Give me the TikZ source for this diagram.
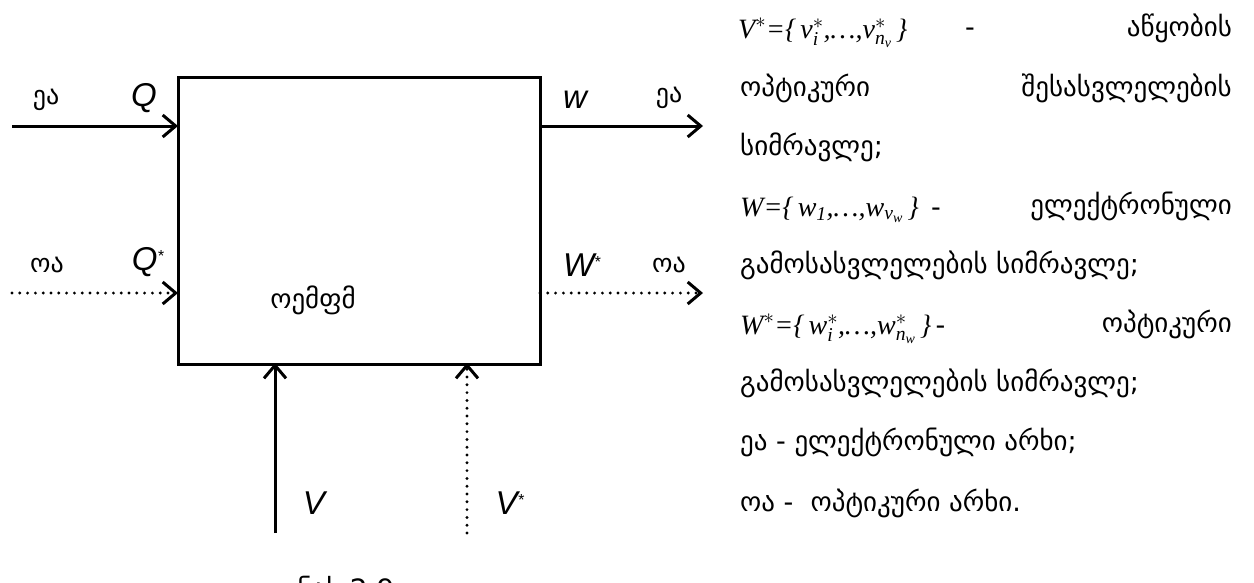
\documentclass[tikz,border=0pt]{standalone}
\usepackage{amsmath}
\usepackage{fontspec}
\setmainfont{DejaVu Sans}
\newfontfamily\ars{Liberation Sans}
\newfontfamily\tms{Liberation Serif}
\usetikzlibrary{arrows.meta}
\newcommand\ti[1]{\text{\tms\itshape #1}}
\begin{document}
\begin{tikzpicture}[x=1pt,y=-1pt,
  thick line/.style={line width=3pt},
  tip/.style={-{Straight Barb[length=13pt,width=22pt,line width=3pt]}},
  solidarrow/.style={thick line,tip},
  dotarrow/.style={line width=3.2pt,line cap=round,dash pattern=on 0pt off 7.8pt,tip},
  geo/.style={font=\fontsize{26}{30}\selectfont,inner sep=0pt},
  sym/.style={font=\ars\itshape\fontsize{33}{36}\selectfont,inner sep=0pt},
  rtxt/.style={font=\fontsize{27}{30}\selectfont,inner sep=0pt},
  frm/.style={font=\fontsize{28}{32}\selectfont,inner sep=0pt}]
\useasboundingbox (0,0) rectangle (1254,582);
\fill[white] (0,0) rectangle (1254,582);
% box
\node[draw,line width=3pt,minimum width=362pt,minimum height=287pt,inner sep=0pt] (box) at (359,220.5) {};
\node[geo,font=\fontsize{27}{30}\selectfont] (boxlbl) at (313,300) {ოემფმ};
% input / output coordinates
\coordinate (qs) at (12,126);
\coordinate (qe) at (178,126);
\coordinate (qss) at (12,293);
\coordinate (qse) at (178,293);
\coordinate (ws) at (540,126);
\coordinate (we) at (703,126);
\coordinate (wss) at (540,293);
\coordinate (wse) at (703,293);
\coordinate (vs) at (275,533);
\coordinate (ve) at (275,363);
\coordinate (vss) at (467,533);
\coordinate (vse) at (467,363);
\draw[solidarrow] (qs) -- (qe);
\draw[dotarrow] (qss) -- (qse);
\draw[solidarrow] (ws) -- (we);
\draw[dotarrow] (wss) -- (wse);
\draw[solidarrow] (vs) -- (ve);
\draw[dotarrow] (vss) -- (vse);
% labels
\node[geo] (l1) at (46,100) {ეა};
\node[sym] (lq) at (144,98) {Q};
\node[geo] (l2) at (47,265) {ოა};
\node[sym] (lqs) at (148,262) {Q\textsuperscript{\fontsize{16}{16}\selectfont *}};
\node[sym] (lw) at (575,100) {w};
\node[geo] (r1) at (669,98) {ეა};
\node[sym] (lws) at (582,265) {W\textsuperscript{\fontsize{16}{16}\selectfont *}};
\node[geo] (r2) at (669,265) {ოა};
\node[sym] (lv) at (314,503) {V};
\node[sym] (lvs) at (510,503) {V\textsuperscript{\fontsize{16}{16}\selectfont *}};
\node[geo,font=\fontsize{28}{30}\selectfont,anchor=north] (cap) at (346,576) {ნახ.2.9};
% right text
\node[frm,anchor=base west] (f1) at (738,38) {$\ti{V}^{*}\ti{=\{}\,\ti{v}_{\ti{i}}^{*}\ti{,\ldots,}\ti{v}_{\ti{n}_{\ti{v}}}^{*}\,\ti{\}}$};
\node[rtxt,anchor=base] (d1) at (970,36) {-};
\node[rtxt,anchor=base east] (t1) at (1232,36) {აწყობის};
\node[rtxt,anchor=base west] (t2a) at (740,96) {ოპტიკური};
\node[rtxt,anchor=base east] (t2b) at (1232,96) {შესასვლელების};
\node[rtxt,anchor=base west] (t3) at (740,155) {სიმრავლე;};
\node[frm,anchor=base west] (f4) at (740,216) {$\ti{W}\ti{=\{}\,\ti{w}_{\ti{1}}\ti{,\ldots,}\ti{w}_{\ti{v}_{\ti{w}}}\,\ti{\}}$};
\node[rtxt,anchor=base west] (d4) at ([xshift=12pt]f4.base east) {-};
\node[rtxt,anchor=base east] (t4) at (1232,214) {ელექტრონული};
\node[rtxt,anchor=base west] (t5) at (740,273) {გამოსასვლელების სიმრავლე;};
\node[frm,anchor=base west] (f6) at (740,334) {$\ti{W}^{*}\ti{=\{}\,\ti{w}_{\ti{i}}^{*}\ti{,\ldots,}\ti{w}_{\ti{n}_{\ti{w}}}^{*}\,\ti{\}}$};
\node[rtxt,anchor=base west] (d6) at ([xshift=4pt]f6.base east) {-};
\node[rtxt,anchor=base east] (t6) at (1232,332) {ოპტიკური};
\node[rtxt,anchor=base west] (t7) at (740,391) {გამოსასვლელების სიმრავლე;};
\node[rtxt,anchor=base west] (t8) at (740,450) {ეა - ელექტრონული არხი;};
\node[rtxt,anchor=base west] (t9) at (740,511) {ოა -\ \ ოპტიკური არხი.};
\end{tikzpicture}
\end{document}
